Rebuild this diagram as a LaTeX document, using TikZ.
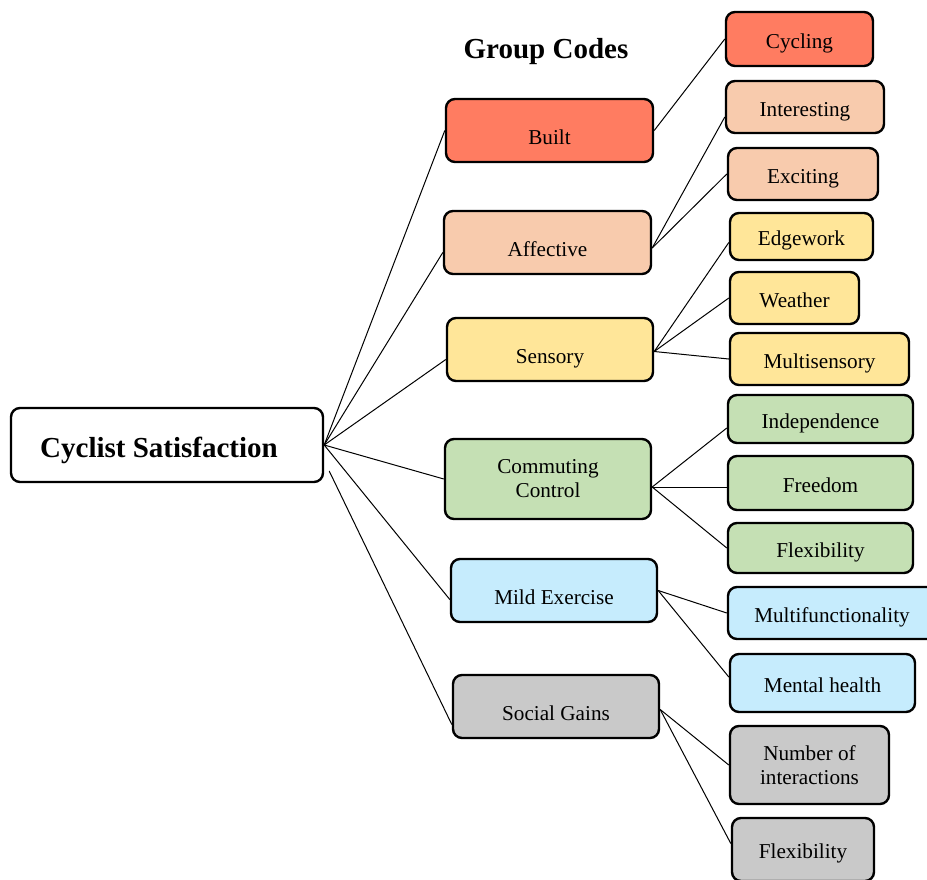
\documentclass[tikz,border=0pt]{standalone}
\usepackage{fontspec}
\setmainfont{Liberation Serif}
\definecolor{builtred}{HTML}{FF7C61}
\definecolor{affpeach}{HTML}{F8CBAD}
\definecolor{sensyellow}{HTML}{FFE699}
\definecolor{commgreen}{HTML}{C5E0B4}
\definecolor{mildblue}{HTML}{C6ECFD}
\definecolor{socgrey}{HTML}{C9C9C9}
\tikzset{
  code/.style={draw=black, line width=1.2pt, rounded corners=4.5pt, align=center,
    inner sep=0pt, font=\fontsize{10.6}{12}\selectfont},
  group/.style={code, text height=13.5pt, text depth=0pt},
  leaf/.style={code, text height=10pt, text depth=1pt},
  link/.style={line width=0.5pt}
}
\begin{document}
\begin{tikzpicture}[x=0.5pt,y=-0.5pt]
\useasboundingbox (0,0) rectangle (927,879);
% root and title
\node[code, minimum width=156pt, minimum height=37pt, text height=13pt, text depth=1pt,
  font=\fontsize{14.5}{17}\selectfont\bfseries] (cyclist) at (167,445) {Cyclist Satisfaction\hspace{8pt}};
\node[font=\fontsize{14.5}{17}\selectfont\bfseries] (title) at (546,52) {Group Codes};
% group codes
\node[group, fill=builtred, minimum width=103.5pt, minimum height=31.5pt] (built) at (549.5,130.5) {Built};
\node[group, fill=affpeach, minimum width=103.5pt, minimum height=31.5pt] (affective) at (547.5,242.5) {Affective};
\node[group, fill=sensyellow, minimum width=103pt, minimum height=31.5pt] (sensory) at (550,349.5) {Sensory};
\node[code, fill=commgreen, minimum width=103pt, minimum height=40pt] (commuting) at (548,479) {Commuting\\Control};
\node[group, fill=mildblue, minimum width=103pt, minimum height=31.5pt] (mild) at (554,590.5) {Mild Exercise};
\node[group, fill=socgrey, minimum width=103pt, minimum height=31.5pt] (social) at (556,706.5) {Social Gains};
% codes
\node[leaf, fill=builtred, minimum width=73.5pt, minimum height=27pt] (cycling) at (799.5,39) {Cycling};
\node[leaf, fill=affpeach, minimum width=79pt, minimum height=26pt] (interesting) at (805,107) {Interesting};
\node[leaf, fill=affpeach, minimum width=75pt, minimum height=26pt] (exciting) at (803,174) {Exciting};
\node[leaf, fill=sensyellow, minimum width=71.5pt, minimum height=23.5pt] (edgework) at (801.5,236.5) {Edgework};
\node[leaf, fill=sensyellow, minimum width=64.5pt, minimum height=26pt] (weather) at (794.5,298) {Weather};
\node[leaf, fill=sensyellow, minimum width=89.5pt, minimum height=26pt] (multisens) at (819.5,359) {Multisensory};
\node[leaf, fill=commgreen, minimum width=92.5pt, minimum height=24pt] (independence) at (820.5,419) {Independence};
\node[leaf, fill=commgreen, minimum width=92.5pt, minimum height=27pt] (freedom) at (820.5,483) {Freedom};
\node[leaf, fill=commgreen, minimum width=92.5pt, minimum height=25pt] (flexgreen) at (820.5,548) {Flexibility};
\node[leaf, fill=mildblue, minimum width=104pt, minimum height=26pt] (multifunc) at (832,613) {Multifunctionality};
\node[leaf, fill=mildblue, minimum width=92.5pt, minimum height=29pt] (mental) at (822.5,683) {Mental health};
\node[code, fill=socgrey, minimum width=79.5pt, minimum height=39pt] (interactions) at (809.5,765) {Number of\\interactions};
\node[leaf, fill=socgrey, minimum width=71pt, minimum height=31.5pt] (flexgrey) at (803,849.5) {Flexibility};
% root to groups
\draw[link] (cyclist.east) -- (built.west);
\draw[link] (cyclist.east) -- ([yshift=-5pt]affective.west);
\draw[link] (cyclist.east) -- ([yshift=-5pt]sensory.west);
\draw[link] (cyclist.east) -- (commuting.west);
\draw[link] (cyclist.east) -- ([yshift=-4.5pt]mild.west);
\draw[link] ([shift={(2.5pt,-13pt)}]cyclist.east) -- ([yshift=-9pt]social.west);
% groups to codes
\draw[link] (built.east) -- (cycling.west);
\draw[link] ([yshift=-2.75pt]affective.east) -- ([yshift=-5pt]interesting.west);
\draw[link] ([yshift=-2.75pt]affective.east) -- (exciting.west);
\draw[link] ([yshift=-1pt]sensory.east) -- ([yshift=-3pt]edgework.west);
\draw[link] ([yshift=-1pt]sensory.east) -- (weather.west);
\draw[link] ([yshift=-1pt]sensory.east) -- (multisens.west);
\draw[link] ([yshift=-4pt]commuting.east) -- ([yshift=-4.5pt]independence.west);
\draw[link] ([yshift=-4pt]commuting.east) -- ([yshift=-2pt]freedom.west);
\draw[link] ([yshift=-4pt]commuting.east) -- (flexgreen.west);
\draw[link] (mild.east) -- (multifunc.west);
\draw[link] (mild.east) -- ([yshift=3pt]mental.west);
\draw[link] ([yshift=-1.5pt]social.east) -- (interactions.west);
\draw[link] ([yshift=-1.5pt]social.east) -- ([yshift=3pt]flexgrey.west);
\end{tikzpicture}
\end{document}
